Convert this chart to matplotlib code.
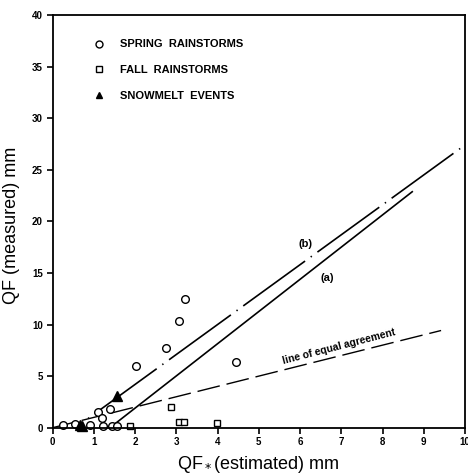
"""QF measured vs estimated scatter with fitted lines."""

import matplotlib

matplotlib.use("Agg")
import matplotlib.pyplot as plt
import numpy as np

plt.rcParams["font.family"] = ["Liberation Sans", "DejaVu Sans"]
plt.rcParams["lines.scale_dashes"] = False

# observed events: (estimated, measured) in mm
spring_x = [0.24, 0.54, 0.90, 1.09, 1.19, 1.21, 1.39, 1.43, 1.55, 2.03, 2.75, 3.07, 3.21, 4.44]
spring_y = [0.26, 0.33, 0.23, 1.55, 0.90, 0.20, 1.85, 0.17, 0.17, 5.99, 7.77, 10.33, 12.47, 6.38]
fall_x = [1.88, 2.87, 3.07, 3.19, 3.98]
fall_y = [0.17, 1.98, 0.55, 0.55, 0.49]
snow_x = [0.66, 0.72, 1.55]
snow_y = [0.22, 0.12, 3.10]

# fitted lines
line_a_slope, line_a_x0, line_a_xend = 3.12, 1.39, 8.72
line_b_slope, line_b_icpt, line_b_xstart, line_b_xend = 2.9, -1.6, 0.6, 9.97
equal_xend = 9.42

x_ticks = list(range(0, 11))
y_ticks = list(range(0, 41, 5))

fig = plt.figure(figsize=(4.68, 4.76), dpi=100)
ax = fig.add_axes([0.1126, 0.1015, 0.881, 0.867])

xa = np.array([line_a_x0, line_a_xend])
ax.plot(xa, line_a_slope * (xa - line_a_x0), color="black", lw=1.2)

xb = np.array([line_b_xstart, line_b_xend])
ax.plot(
    xb,
    line_b_slope * xb + line_b_icpt,
    color="black",
    lw=1.2,
    linestyle=(50.5, (55.0, 5.0, 1.0, 5.0)),
)

xe = np.array([0.0, equal_xend])
ax.plot(xe, xe, color="black", lw=1.0, linestyle=(0, (16.5, 5.0)))

ax.plot(spring_x, spring_y, "o", mfc="white", mec="black", mew=1.0, ms=5.5,
        label="SPRING  RAINSTORMS", clip_on=False)
ax.plot(fall_x, fall_y, "s", mfc="white", mec="black", mew=1.0, ms=5.0,
        label="FALL  RAINSTORMS", clip_on=False)
ax.plot(snow_x, snow_y, "^", mfc="black", mec="black", ms=6.5,
        label="SNOWMELT  EVENTS", clip_on=False)

ax.text(6.13, 17.8, "(b)", fontsize=8, fontweight="bold", ha="center", va="center")
ax.text(6.66, 14.5, "(a)", fontsize=8, fontweight="bold", ha="center", va="center")
ax.text(5.62, 5.95, "line of equal agreement", fontsize=7.5, fontweight="bold",
        rotation=14.5, rotation_mode="anchor", ha="left", va="bottom")

ax.set_xlim(0, 10)
ax.set_ylim(0, 40)
ax.set_xticks(x_ticks)
ax.set_yticks(y_ticks)
ax.tick_params(direction="out", length=4, width=1.2, labelsize=7, pad=3)
for lab in ax.get_xticklabels() + ax.get_yticklabels():
    lab.set_fontweight("bold")
for spine in ax.spines.values():
    spine.set_linewidth(1.3)

ax.set_xlabel("QF$_*$(estimated) mm", fontsize=13, labelpad=5)
ax.set_ylabel("QF (measured) mm", fontsize=13, labelpad=6)
ax.yaxis.set_label_coords(-0.08, 0.49)

legend = ax.legend(
    loc="upper left",
    bbox_to_anchor=(0.075, 0.965),
    frameon=False,
    handlelength=1.0,
    handletextpad=1.4,
    labelspacing=1.4,
    prop={"size": 8, "weight": "bold"},
)
for handle in legend.legend_handles:
    handle.set_markersize(5)

fig.savefig("out.png", dpi=100)
plt.close(fig)
